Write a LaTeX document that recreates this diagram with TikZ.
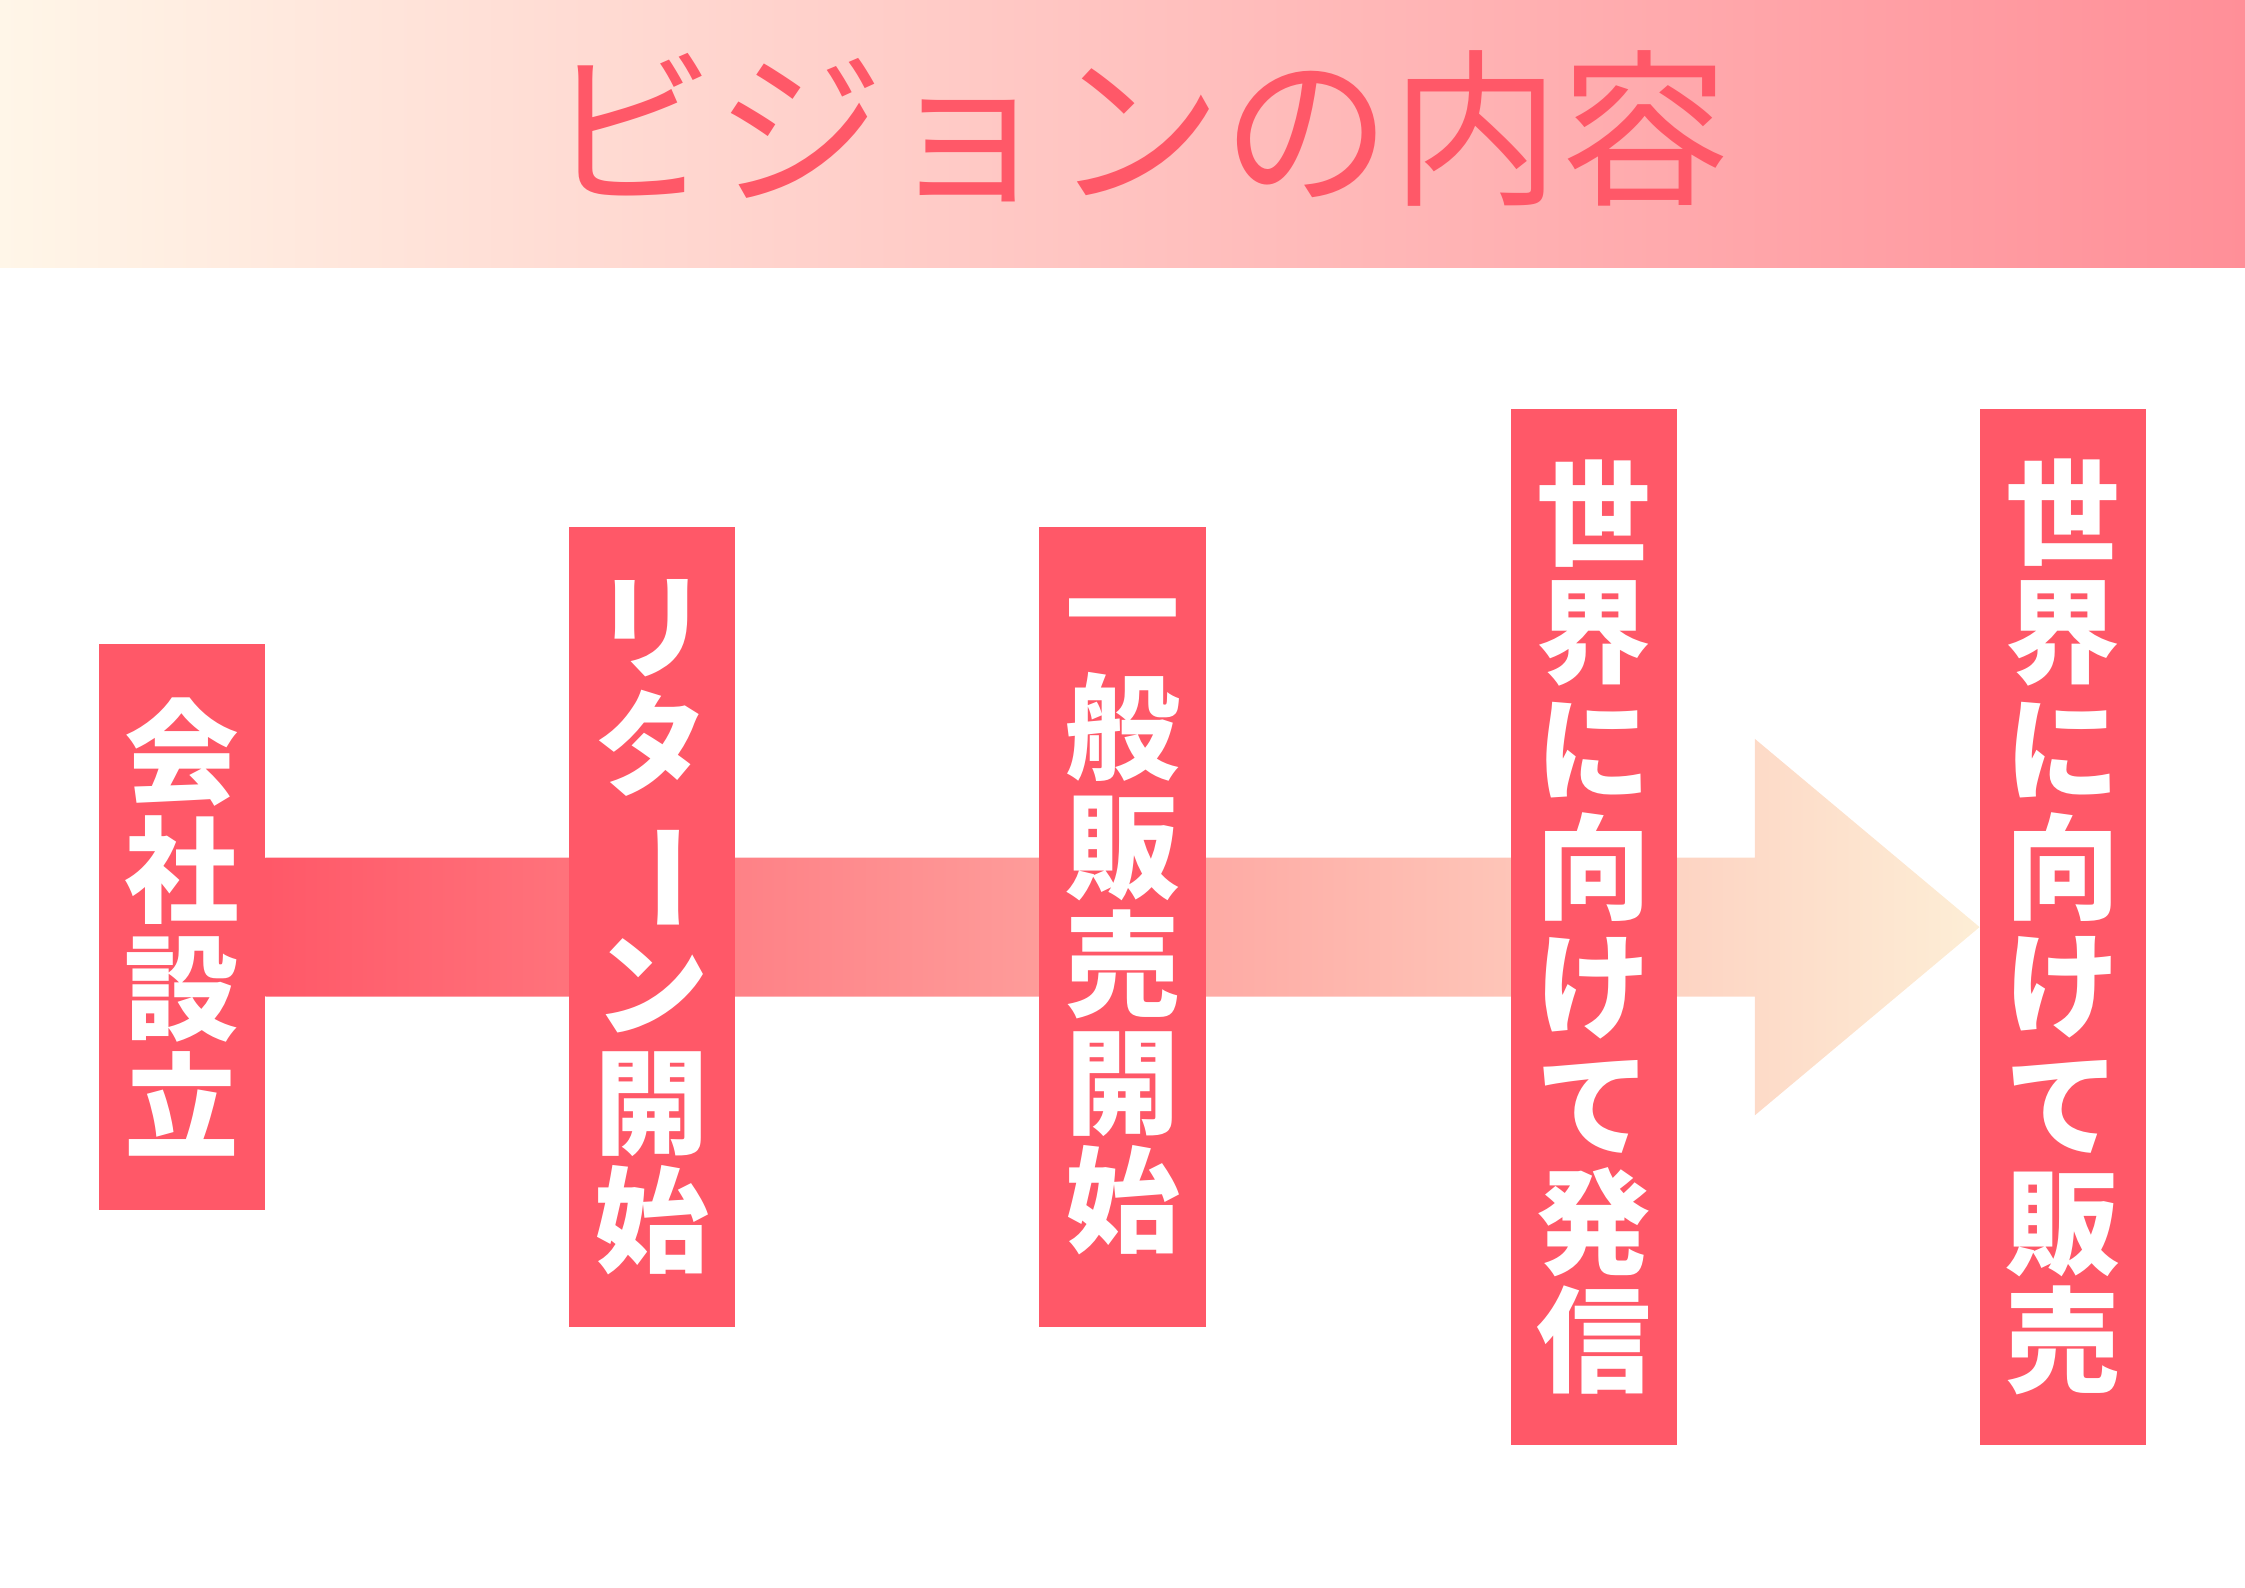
\documentclass[tikz,border=0pt]{standalone}
\usepackage{fontspec}
\usepackage{graphicx}
\usetikzlibrary{calc,backgrounds}
\newfontfamily\jpfont{Noto Sans CJK JP}
\definecolor{boxred}{RGB}{255,88,104}
\definecolor{tipcream}{RGB}{253,238,214}
\definecolor{headcream}{RGB}{255,246,232}
\definecolor{headpink}{RGB}{255,143,152}
\tikzstyle{stepbox}=[rectangle,fill=boxred,minimum width=58pt,inner sep=0pt,align=center,text=white,font=\jpfont\bfseries\fontsize{40}{41.3}\selectfont]
\tikzstyle{heading}=[text=boxred,font=\jpfont\fontsize{59}{62}\selectfont]
\tikzstyle{bigarrow}=[left color=boxred,right color=tipcream]
\newcommand{\chouon}{\rotatebox[origin=c]{-90}{ー}}

\begin{document}
\begin{tikzpicture}[x=0.5pt,y=-0.5pt]
    \useasboundingbox (0,0) rectangle (1568,1109);
    % Draw the header band and the title
    \shade[left color=headcream,right color=headpink] (0,0) rectangle (1568,187);
    \node[heading] (title) at (795,90) {ビジョンの内容};

    % First we draw the boxes
    \foreach \pos/\h/\name/\txt in {{(127,647.5)/197.5pt/kaisha/{会\\社\\設\\立}},
        {(455.5,647.5)/279.5pt/ritan/{リ\\タ\\\chouon\\ン\\開\\始}},
        {(784,647.5)/279.5pt/ippan/{一\\般\\販\\売\\開\\始}},
        {(1113,647.5)/361.5pt/hasshin/{世\\界\\に\\向\\け\\て\\発\\信}},
        {(1441,647.5)/361.5pt/hanbai/{世\\界\\に\\向\\け\\て\\販\\売}}}
        \node[stepbox,minimum height=\h] (\name) at \pos {\txt};

    % Then the arrow behind them
    \begin{scope}[on background layer]
        \shade[bigarrow] ($(kaisha.east)+(0,-48.5)$) -- ($(hanbai.west)+(-157,-48.5)$)
            -- ($(hanbai.west)+(-157,-131.5)$) -- (hanbai.west)
            -- ($(hanbai.west)+(-157,131.5)$) -- ($(hanbai.west)+(-157,48.5)$)
            -- ($(kaisha.east)+(0,48.5)$) -- cycle;
    \end{scope}
\end{tikzpicture}
\end{document}
